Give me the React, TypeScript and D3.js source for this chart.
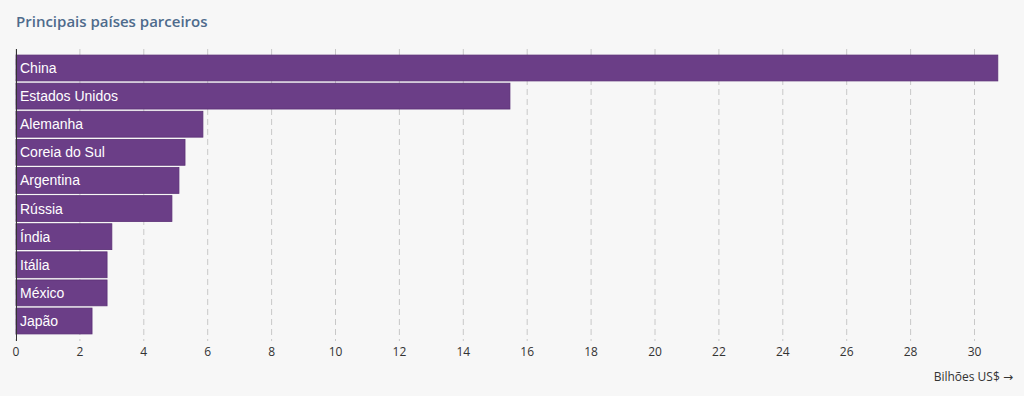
import React from "react";
import * as d3 from "d3";

const countries = ["China", "Estados Unidos", "Alemanha", "Coreia do Sul", "Argentina", "Rússia", "Índia", "Itália", "México", "Japão"];
const values = [30.73, 15.46, 5.85, 5.29, 5.1, 4.88, 3.0, 2.85, 2.85, 2.38];
const ticks = [0, 2, 4, 6, 8, 10, 12, 14, 16, 18, 20, 22, 24, 26, 28, 30];
const title = "Principais países parceiros";
const axisLabel = "Bilhões US$";
const arrow = "→";

export default function App() {
  const W = 1024, H = 396;
  const x = d3.scaleLinear().domain([0, 30]).range([16, 974.5]);
  const y = d3.scaleBand<string>().domain(countries).range([54.5, 334.5]).paddingInner(0.08).paddingOuter(0.02);
  return (
    <svg width={W} height={H} style={{ position: "absolute", left: 0, top: 0, background: "#f7f7f7" }}>
      <rect x={0} y={0} width={W} height={H} fill="#f7f7f7" />
      <text x={16} y={27} fontFamily="'Open Sans', sans-serif" fontWeight={600} fontSize={15} fill="#4e6b8c">{title}</text>
      {ticks.map((t) => (
        <line key={"g" + t} x1={x(t)} x2={x(t)} y1={49} y2={341} stroke="#c8c8c8" strokeWidth={1} strokeDasharray="6,4" />
      ))}
      {countries.map((c, i) => (
        <g key={c}>
          <rect x={x(0)} y={y(c)} width={x(values[i]) - x(0)} height={y.bandwidth()} fill="#6b3e87" stroke="#5b2f76" strokeWidth={0.8} />
          <text x={20} y={(y(c) as number) + y.bandwidth() / 2 + 5} fontFamily="'Liberation Sans', Arial, sans-serif" fontSize={14} fill="#ffffff">{c}</text>
        </g>
      ))}
      <line x1={16.5} x2={16.5} y1={49} y2={341} stroke="#333" strokeWidth={1} />
      {ticks.map((t) => (
        <text key={"t" + t} x={x(t)} y={356} textAnchor="middle" fontFamily="'Open Sans', sans-serif" fontSize={12} fill="#333">{t}</text>
      ))}
      <text x={1013} y={381} textAnchor="end" fontFamily="'Open Sans', sans-serif" fontSize={12} fill="#333">
        {axisLabel + " "}
        <tspan fontFamily="'DejaVu Sans', sans-serif" fontSize={12}>{arrow}</tspan>
      </text>
    </svg>
  );
}
